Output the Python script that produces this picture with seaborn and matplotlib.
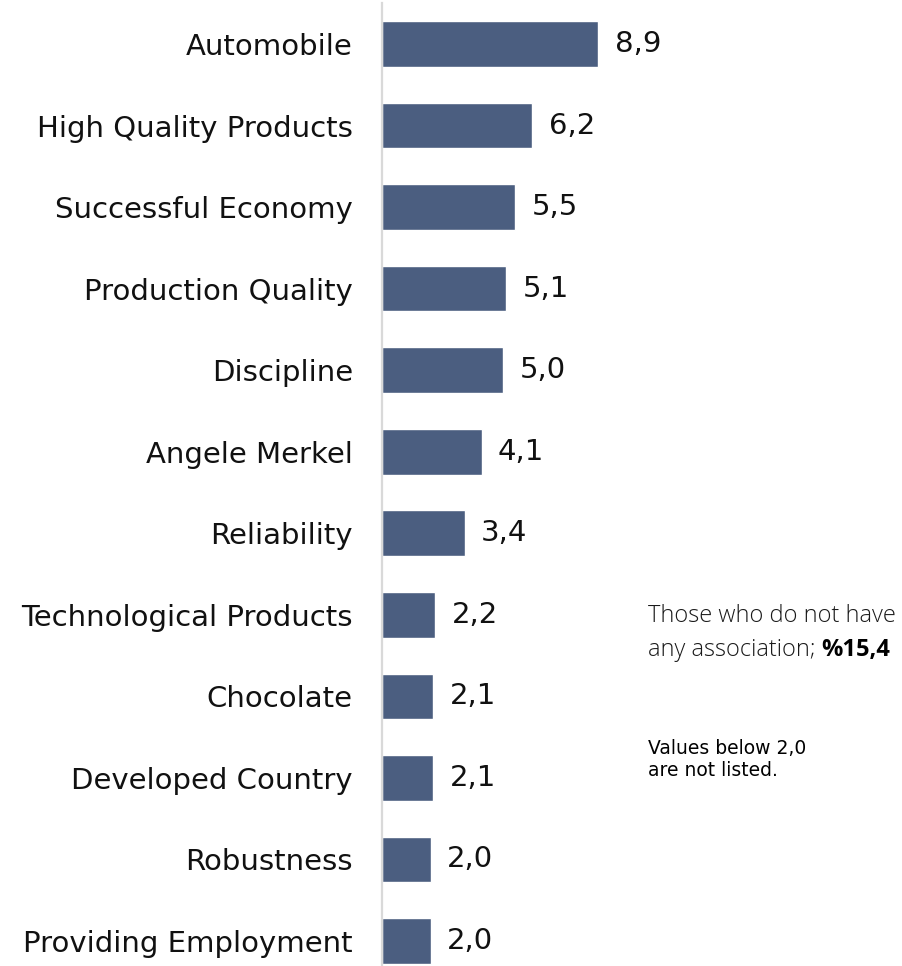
import pandas as pd
import seaborn as sns
import matplotlib.pyplot as plt

categories = ['Automobile', 'High Quality Products', 'Successful Economy',
              'Production Quality', 'Discipline', 'Angele Merkel', 'Reliability',
              'Technological Products', 'Chocolate', 'Developed Country',
              'Robustness', 'Providing Employment']
values = [8.9, 6.2, 5.5, 5.1, 5.0, 4.1, 3.4, 2.2, 2.1, 2.1, 2.0, 2.0]

data = pd.DataFrame({'Association': categories, 'Share': values})

sns.set_style('white')
plt.rcParams['font.family'] = ['DejaVu Sans']

fig = plt.figure(figsize=(9.02, 9.66), dpi=100)
ax = fig.add_axes([382 / 902, 0, 1 - 382 / 902, 963 / 966])

sns.barplot(data=data, x='Share', y='Association', color='#4b5e80',
            saturation=1, width=0.56, ax=ax)

ax.set_xlim(0, 520 / 24.27)
ax.set_ylim(11.306, -0.503)
ax.set_xlabel('')
ax.set_ylabel('')
ax.set_xticks([])
ax.tick_params(axis='y', length=0, pad=21, labelsize=21, labelcolor='#111111')

for s in ['top', 'right', 'bottom']:
    ax.spines[s].set_visible(False)
ax.spines['left'].set_color('#d9d9d9')
ax.spines['left'].set_linewidth(1.6)

# value labels, comma as decimal sign
for i, v in enumerate(values):
    ax.text(v + 0.68, i, f'{v:.1f}'.replace('.', ','), va='center', ha='left',
            fontsize=21, color='#111111')

fig.text(648 / 902, 1 - 616 / 966, 'Those who do not have', fontsize=17,
         family='Open Sans', fontweight='light', color='#1a1a1a', va='center')
t = fig.text(648 / 902, 1 - 650 / 966, 'any association; ', fontsize=17,
             family='Open Sans', fontweight='light', color='#1a1a1a', va='center')
ax.annotate('%15,4', xy=(1, 0.5), xycoords=t, va='center', ha='left',
            fontsize=17, family='Open Sans', fontweight='bold', color='#000000',
            annotation_clip=False)
fig.text(648 / 902, 1 - 749 / 966, 'Values below 2,0', fontsize=13.5,
         color='#000000', va='center')
fig.text(648 / 902, 1 - 770 / 966, 'are not listed.', fontsize=13.5,
         color='#000000', va='center')

plt.savefig('out.png', dpi=100)
